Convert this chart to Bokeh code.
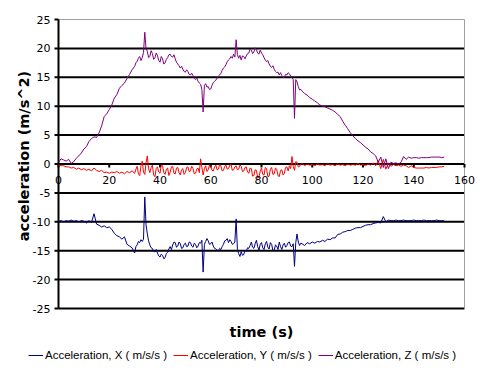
import math
import numpy as np
from bokeh.plotting import figure
from bokeh.models import Range1d, Legend, LegendItem
from bokeh.core.properties import value
from bokeh.embed import file_html
from bokeh.resources import INLINE

# ---------------- data ----------------
# sample times: 1 s steps, 0.5 s steps through the noisy middle part
time_s = list(range(0, 30)) + [30 + i / 2 for i in range(132)] + list(range(96, 153))

acc_x = [
    # 0 .. 29 s
    -9.9, -9.8, -10.0, -9.8, -9.9, -9.7, -9.9, -9.8, -10.0, -9.8,
    -9.9, -10.2, -9.8, -10.1, -8.6, -10.4, -10.6, -10.9, -10.7, -11.0,
    -10.9, -11.3, -12.0, -12.4, -12.6, -13.0, -12.6, -13.9, -14.2, -14.5,
    # 30 .. 95.5 s (0.5 s)
    -15.4, -14.3, -14.0, -13.4, -13.6, -13.1, -13.4, -13.0, -5.7, -10.5,
    -12.1, -13.3, -14.0, -14.5, -14.6, -15.1, -15.2, -14.8, -15.4, -15.9,
    -16.1, -15.6, -15.8, -16.4, -16.2, -15.5, -15.3, -14.7, -14.3, -14.8,
    -14.0, -13.5, -13.6, -14.4, -14.2, -13.5, -13.8, -14.6, -14.5, -13.9,
    -13.7, -14.3, -14.2, -13.5, -13.6, -14.2, -14.4, -13.7, -13.9, -14.5,
    -14.2, -13.6, -13.7, -13.2, -18.7, -13.9, -13.4, -12.9, -13.3, -13.9,
    -13.8, -13.5, -14.2, -14.6, -14.7, -14.9, -15.0, -14.6, -14.8, -14.3,
    -13.9, -13.3, -13.2, -12.9, -13.6, -13.1, -13.4, -13.9, -13.8, -13.5,
    -9.5, -14.8, -15.5, -16.0, -15.2, -15.8, -15.7, -14.9, -15.1, -14.5,
    -14.6, -14.1, -13.5, -14.4, -14.6, -13.8, -13.2, -14.3, -14.9, -13.9,
    -13.6, -14.5, -14.8, -13.8, -13.4, -14.4, -14.7, -13.6, -13.9, -15.0,
    -14.9, -14.0, -14.2, -14.8, -13.5, -14.3, -14.8, -14.0, -13.7, -14.4,
    -14.1, -13.6, -13.5, -14.2, -14.3, -13.8, -17.7, -13.6, -12.1, -13.5,
    -14.1, -13.7,
    # 96 .. 152 s
    -13.8, -14.1, -13.6, -13.8,
    -13.5, -13.7, -13.4, -13.5, -13.2, -13.4, -13.0, -13.1, -12.8, -12.8,
    -12.2, -12.1, -11.8, -11.7, -11.5, -11.5, -11.3, -11.1, -11.0, -11.0,
    -10.8, -10.6, -10.5, -10.5, -10.3, -10.2, -10.1, -10.2, -9.1, -10.0,
    -9.7, -9.8, -9.8, -9.7, -9.8, -9.8, -9.7, -9.8, -9.8, -9.8,
    -9.7, -9.8, -9.8, -9.8, -9.7, -9.8, -9.8, -9.8, -9.8, -9.7,
    -9.8, -9.8, -9.8,
]

acc_y = [
    # 0 .. 29 s
    -0.2, -0.3, -0.3, -0.5, -0.5, -0.7, -0.6, -0.9, -0.7, -1.0,
    -0.8, -1.1, -0.9, -1.2, -0.7, -1.1, -1.3, -1.1, -1.5, -1.4,
    -1.6, -1.4, -1.5, -1.3, -1.6, -1.4, -1.7, -1.3, -1.5, -1.2,
    # 30 .. 95.5 s (0.5 s)
    -1.6, -0.9, -0.4, -1.7, -2.0, -0.3, 0.5, -1.4, -1.8, 0.2,
    1.4, -0.8, -1.5, -0.6, -0.2, -1.9, -2.2, -0.8, -0.5, -1.4,
    -1.6, -0.2, -0.3, -1.5, -1.8, -0.9, -0.7, -2.0, -1.4, -0.5,
    -0.4, -1.6, -1.7, -0.7, -0.6, -1.5, -1.9, -1.0, -0.8, -1.8,
    -1.5, -0.6, -0.5, -1.3, -1.2, -0.4, -0.8, -1.7, -1.6, -0.9,
    -0.7, -1.5, 0.9, -0.6, -1.9, -0.8, -0.3, -1.3, -1.0, -0.2,
    -0.4, -1.1, -1.2, -0.5, -0.2, -1.0, -0.9, -0.1, -0.3, -1.2,
    -1.1, -0.4, -0.2, -0.9, -0.8, -0.2, -0.1, -1.1, -1.0, -0.5,
    -0.3, -1.0, -0.9, -0.2, -0.4, -1.3, -1.2, -0.6, -0.5, -1.4,
    -1.6, -0.7, -0.8, -2.1, -2.0, -1.0, -1.1, -2.4, -2.3, -1.2,
    -0.7, -1.8, -1.9, -0.6, -0.8, -2.2, -2.1, -0.9, -0.6, -1.8,
    -1.7, -0.7, -0.9, -2.0, -2.2, -1.1, -1.0, -1.9, -1.6, -0.6,
    -0.5, -1.2, -0.3, -0.8, 1.3, -0.4, -1.1, 0.4, 0.3, -0.5,
    -0.4, 0.0,
    # 96 .. 152 s
    0.1, -0.3, 0.0, -0.2,
    -0.1, -0.3, 0.0, -0.2, -0.1, -0.3, 0.1, -0.2, -0.1, -0.3,
    0.0, -0.2, -0.1, -0.3, 0.0, -0.2, -0.1, -0.2, 0.1, -0.2,
    -0.1, -0.3, 0.0, -0.2, 0.2, -0.3, 0.6, -0.8, 0.8, -0.9,
    0.2, -0.4, -0.1, -0.3, -0.2, -0.4, -0.2, -0.3, -0.6, -0.3,
    -0.6, -0.7, -0.7, -0.7, -0.7, -0.6, -0.7, -0.6, -0.6, -0.6,
    -0.5, -0.5, -0.4,
]

acc_z = [
    # 0 .. 29 s
    0.3, 0.9, 0.7, 0.5, 0.8, 0.1, 0.4, 1.0, 1.4, 1.9,
    2.6, 3.0, 3.9, 4.4, 4.7, 4.6, 5.4, 6.6, 8.2, 8.7,
    9.4, 10.2, 11.4, 12.0, 13.1, 13.6, 14.0, 14.8, 15.5, 16.3,
    # 30 .. 95.5 s (0.5 s)
    16.9, 17.5, 17.8, 18.3, 18.6, 17.9, 18.4, 19.3, 22.8, 20.0,
    19.5, 18.4, 18.6, 19.6, 19.1, 18.1, 18.4, 19.2, 18.8, 17.9,
    17.6, 18.6, 18.2, 17.3, 17.5, 18.1, 18.4, 18.9, 19.0, 18.6,
    18.5, 18.9, 18.2, 17.6, 17.3, 17.0, 16.6, 16.9, 16.4, 16.0,
    15.9, 16.3, 16.0, 15.5, 15.4, 15.7, 15.3, 14.8, 14.6, 14.9,
    14.3, 14.0, 13.8, 12.9, 9.0, 13.6, 13.9, 13.3, 13.4, 12.9,
    13.0, 13.6, 14.1, 14.3, 14.5, 14.9, 15.2, 15.4, 15.7, 16.2,
    16.6, 16.8, 17.2, 17.7, 18.0, 18.2, 18.6, 18.3, 19.0, 18.5,
    21.5, 18.9, 18.3, 18.8, 18.0, 18.7, 18.6, 18.2, 18.7, 19.1,
    19.2, 19.9, 19.7, 19.1, 19.4, 20.1, 19.8, 19.2, 19.0, 19.7,
    19.2, 18.9, 18.4, 18.0, 17.7, 17.9, 17.3, 16.9, 16.7, 17.0,
    16.4, 16.0, 15.8, 15.9, 15.4, 15.8, 15.3, 15.0, 15.0, 15.5,
    15.4, 15.8, 15.6, 15.2, 15.0, 14.6, 7.9, 14.6, 14.2, 13.4,
    12.8, 12.9,
    # 96 .. 152 s
    12.6, 12.2, 11.9, 11.5,
    11.2, 10.9, 10.6, 10.2, 10.0, 9.9, 9.7, 9.5, 9.3, 9.0,
    8.6, 8.2, 7.4, 6.7, 6.1, 5.4, 4.9, 4.4, 4.0, 3.7,
    3.3, 2.9, 2.6, 2.1, 1.8, 1.4, 0.3, 1.2, -0.6, 0.9,
    -0.8, 0.3, 0.1, 0.2, 0.0, 0.3, 1.3, 0.8, 1.2, 1.0,
    1.1, 1.1, 1.0, 1.1, 1.1, 1.1, 1.1, 1.2, 1.2, 1.2,
    1.2, 1.1, 1.2,
]

x_ticks = [0, 20, 40, 60, 80, 100, 120, 140, 160]
y_ticks = [-25, -20, -15, -10, -5, 0, 5, 10, 15, 20, 25]
grid_levels = [-25, -20, -15, -10, -5, 0, 5, 10, 15, 20]

series_names = ["Acceleration, X ( m/s/s )", "Acceleration, Y ( m/s/s )", "Acceleration, Z ( m/s/s )"]
series_colors = ["#000080", "#FF0000", "#800080"]

# ---------------- scales: the frame covers the whole canvas ----------------
W, H = 484, 373
PLOT_LEFT, PLOT_RIGHT = 58, 464      # pixel columns of x = 0 and x = 160
PLOT_TOP, PLOT_BOTTOM = 19, 308      # pixel rows of y = 25 and y = -25
X_MIN, X_MAX = x_ticks[0], x_ticks[-1]
Y_MIN, Y_MAX = y_ticks[0], y_ticks[-1]
sx = (PLOT_RIGHT - PLOT_LEFT) / (X_MAX - X_MIN)
sy = (PLOT_BOTTOM - PLOT_TOP) / (Y_MAX - Y_MIN)
x_lo = X_MIN - PLOT_LEFT / sx
x_hi = X_MAX + (W - PLOT_RIGHT) / sx
y_hi = Y_MAX + PLOT_TOP / sy
y_lo = Y_MIN - (H - PLOT_BOTTOM) / sy

p = figure(width=W, height=H, output_backend="svg", toolbar_location=None,
           x_range=Range1d(x_lo, x_hi), y_range=Range1d(y_lo, y_hi),
           x_axis_location=None, y_axis_location=None,
           min_border=0, min_border_left=0, min_border_right=0,
           min_border_top=0, min_border_bottom=0)
p.outline_line_color = None
p.grid.visible = False
p.background_fill_color = "white"
p.border_fill_color = "white"

nan = float("nan")

def joined(pairs_x, pairs_y):
    xs, ys = [], []
    for (a, b), (c, d) in zip(pairs_x, pairs_y):
        xs += [a, b, nan]
        ys += [c, d, nan]
    return np.array(xs, dtype=float), np.array(ys, dtype=float)

# horizontal gridlines (black), incl. the y = 0 axis line
gx, gy = joined([(X_MIN, X_MAX)] * len(grid_levels), [(g, g) for g in grid_levels])
p.line(gx, gy, line_color="black", line_width=2)

# grey plot-area border (top and right)
p.line(np.array([X_MIN, X_MAX, X_MAX], dtype=float), np.array([Y_MAX, Y_MAX, Y_MIN], dtype=float),
       line_color="#a0a0a0", line_width=1)

# y axis line and its tick marks
p.line(np.array([X_MIN, X_MIN], dtype=float), np.array([Y_MIN, Y_MAX], dtype=float),
       line_color="black", line_width=2)
ytl = 4 / sx
tx, ty = joined([(X_MIN - ytl, X_MIN)] * len(y_ticks), [(t, t) for t in y_ticks])
p.line(tx, ty, line_color="black", line_width=2)

# x tick marks under the y = 0 axis
xtl = 3.5 / sy
kx, ky = joined([(t, t) for t in x_ticks], [(0, -xtl)] * len(x_ticks))
p.line(kx, ky, line_color="black", line_width=2)

# series
n = min(len(time_s), len(acc_x), len(acc_y), len(acc_z))
renderers = []
for vals, col in zip([acc_x, acc_y, acc_z], series_colors):
    r = p.line(time_s[:n], vals[:n], line_color=col, line_width=1)
    renderers.append(r)

# tick labels
p.text(x=[X_MIN] * len(y_ticks), y=y_ticks, text=[str(t) for t in y_ticks],
       text_align="right", text_baseline="middle", x_offset=-8,
       text_font=value("DejaVu Sans"), text_font_size="11px", text_color="black")
p.text(x=x_ticks, y=[0] * len(x_ticks), text=[str(t) for t in x_ticks],
       text_align="center", text_baseline="top", y_offset=12,
       text_font=value("DejaVu Sans"), text_font_size="11px", text_color="black")

# axis titles
p.text(x=[(X_MIN + X_MAX) / 2], y=[Y_MIN], text=["time (s)"],
       text_align="center", text_baseline="middle", y_offset=23,
       text_font=value("DejaVu Sans"), text_font_style="bold", text_font_size="14.5px",
       text_color="black")
p.text(x=[X_MIN], y=[0], text=["acceleration (m/s^2)"], angle=math.pi / 2,
       text_align="center", text_baseline="middle", x_offset=-35, y_offset=-8,
       text_font=value("DejaVu Sans"), text_font_style="bold", text_font_size="14.5px",
       text_color="black")

legend = Legend(items=[LegendItem(label=nm, renderers=[r]) for nm, r in zip(series_names, renderers)],
                orientation="horizontal", location=(28, 12),
                glyph_width=15, glyph_height=12, label_height=12, label_standoff=2, spacing=6,
                padding=0, margin=0, border_line_color=None, background_fill_alpha=0,
                label_text_font="Liberation Sans", label_text_font_size="11.5px",
                label_text_color="black")
p.add_layout(legend)

open("out.html", "w").write(file_html(p, INLINE))
